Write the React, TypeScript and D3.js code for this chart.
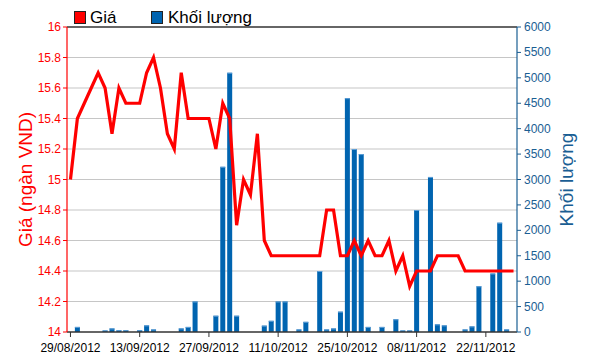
import React from "react";
import * as d3 from "d3";

const dates: string[] = [
  "29/08/2012","30/08/2012","31/08/2012",
  "04/09/2012","05/09/2012","06/09/2012","07/09/2012",
  "10/09/2012","11/09/2012","12/09/2012","13/09/2012","14/09/2012",
  "17/09/2012","18/09/2012","19/09/2012","20/09/2012","21/09/2012",
  "24/09/2012","25/09/2012","26/09/2012","27/09/2012","28/09/2012",
  "01/10/2012","02/10/2012","03/10/2012","04/10/2012","05/10/2012",
  "08/10/2012","09/10/2012","10/10/2012","11/10/2012","12/10/2012",
  "15/10/2012","16/10/2012","17/10/2012","18/10/2012","19/10/2012",
  "22/10/2012","23/10/2012","24/10/2012","25/10/2012","26/10/2012",
  "29/10/2012","30/10/2012","31/10/2012","01/11/2012","02/11/2012",
  "05/11/2012","06/11/2012","07/11/2012","08/11/2012","09/11/2012",
  "12/11/2012","13/11/2012","14/11/2012","15/11/2012","16/11/2012",
  "19/11/2012","20/11/2012","21/11/2012","22/11/2012","23/11/2012",
  "26/11/2012","27/11/2012","28/11/2012",
];

const prices: number[] = [
  15.0, 15.4, 15.5, 15.6, 15.7, 15.6, 15.3, 15.6, 15.5, 15.5,
  15.5, 15.7, 15.8, 15.6, 15.3, 15.2, 15.7, 15.4, 15.4, 15.4,
  15.4, 15.2, 15.5, 15.4, 14.7, 15.0, 14.9, 15.3, 14.6, 14.5,
  14.5, 14.5, 14.5, 14.5, 14.5, 14.5, 14.5, 14.8, 14.8, 14.5,
  14.5, 14.6, 14.5, 14.6, 14.5, 14.5, 14.6, 14.4, 14.5, 14.3,
  14.4, 14.4, 14.4, 14.5, 14.5, 14.5, 14.5, 14.4, 14.4, 14.4,
  14.4, 14.4, 14.4, 14.4, 14.4,
];

const volumes: number[] = [
  0, 100, 0, 0, 0, 30, 70, 35, 35, 0,
  35, 130, 50, 0, 0, 0, 70, 100, 600, 0,
  0, 320, 3250, 5100, 320, 0, 0, 0, 125, 220,
  600, 600, 0, 50, 200, 0, 1200, 50, 70, 400,
  4600, 3600, 3500, 100, 0, 100, 0, 250, 30, 30,
  2400, 0, 3050, 150, 130, 0, 0, 50, 110, 900,
  0, 1150, 2150, 50, 0,
];

const priceTicks: number[] = [14, 14.2, 14.4, 14.6, 14.8, 15, 15.2, 15.4, 15.6, 15.8, 16];
const volumeTicks: number[] = [0, 500, 1000, 1500, 2000, 2500, 3000, 3500, 4000, 4500, 5000, 5500, 6000];
const xTickLabels: string[] = ["29/08/2012", "13/09/2012", "27/09/2012", "11/10/2012", "25/10/2012", "08/11/2012", "22/11/2012"];

const W = 590;
const H = 356;
const L = 67;
const R = 517;
const T = 27;
const B = 332;
const FONT = "'Liberation Sans', Arial, sans-serif";
const RED = "#ff0000";
const BLUE = "#0064b0";
const AXBLUE = "#1a5e93";

export default function App() {
  const x = d3.scaleBand<string>().domain(dates).range([L, R]).padding(0);
  const cx = (d: string) => (x(d) as number) + x.bandwidth() / 2;
  const yP = d3.scaleLinear().domain([14, 16]).range([B, T]);
  const yV = d3.scaleLinear().domain([0, 6000]).range([B, T]);
  const line = d3
    .line<number>()
    .x((_, i) => cx(dates[i]))
    .y((d) => yP(d));
  const barW = 5;

  return (
    <svg width={W} height={H} style={{ position: "absolute", left: 0, top: 0, background: "#fff" }} fontFamily={FONT}>
      {/* gridlines */}
      {priceTicks.slice(1, -1).map((t) => (
        <line key={"g" + t} x1={L} x2={R} y1={yP(t)} y2={yP(t)} stroke="#c6c6c6" strokeWidth={1.2} />
      ))}
      {/* top border */}
      <line x1={L} x2={R} y1={T} y2={T} stroke="#333" strokeWidth={1.3} />
      {/* bars */}
      {volumes.map((v, i) =>
        v > 0 ? (
          <g key={"b" + i}>
            <rect x={cx(dates[i]) - barW / 2} y={yV(v)} width={barW} height={B - yV(v)} fill={BLUE} />
            <rect x={cx(dates[i]) - barW / 2} y={yV(v)} width={barW} height={1} fill="#5f9fd6" />
          </g>
        ) : null
      )}
      {/* price line */}
      <path d={line(prices) || ""} fill="none" stroke={RED} strokeWidth={3.2} strokeLinejoin="miter" />
      {/* bottom axis */}
      <line x1={L} x2={R} y1={B} y2={B} stroke="#333" strokeWidth={1.3} />
      {xTickLabels.map((lab) => {
        const px = cx(lab);
        return (
          <g key={"x" + lab}>
            <line x1={px} x2={px} y1={B} y2={B + 5} stroke="#333" />
            <text x={px} y={352} textAnchor="middle" fontSize={12} fill="#000">
              {lab}
            </text>
          </g>
        );
      })}
      {/* left axis */}
      <line x1={L} x2={L} y1={T} y2={B} stroke={RED} strokeWidth={1.2} />
      {priceTicks.map((t) => (
        <g key={"p" + t}>
          <line x1={L - 4} x2={L} y1={yP(t)} y2={yP(t)} stroke={RED} />
          <text x={L - 6} y={yP(t) + 4} textAnchor="end" fontSize={12} fill={RED}>
            {d3.format("~g")(t)}
          </text>
        </g>
      ))}
      <text
        transform={`translate(32,${(T + B) / 2}) rotate(-90)`}
        textAnchor="middle"
        fontSize={19}
        fill={RED}
      >
        Giá (ngàn VND)
      </text>
      {/* right axis */}
      <line x1={R} x2={R} y1={T} y2={B} stroke={AXBLUE} strokeWidth={1.2} />
      {volumeTicks.map((t) => (
        <g key={"v" + t}>
          <line x1={R} x2={R + 4} y1={yV(t)} y2={yV(t)} stroke={AXBLUE} />
          <text x={R + 7} y={yV(t) + 4} textAnchor="start" fontSize={12} fill={AXBLUE}>
            {t}
          </text>
        </g>
      ))}
      <text
        transform={`translate(573,${(T + B) / 2}) rotate(-90)`}
        textAnchor="middle"
        fontSize={19}
        fill={AXBLUE}
      >
        Khối lượng
      </text>
      {/* legend */}
      <rect x={74.5} y={11.5} width={11} height={12} fill={RED} stroke="#222" strokeWidth={1} />
      <text x={90} y={23} fontSize={17} fill="#000">
        Giá
      </text>
      <rect x={151.5} y={11.5} width={11} height={12} fill={BLUE} stroke="#222" strokeWidth={1} />
      <text x={168} y={23} fontSize={17} fill="#000">
        Khối lượng
      </text>
    </svg>
  );
}
